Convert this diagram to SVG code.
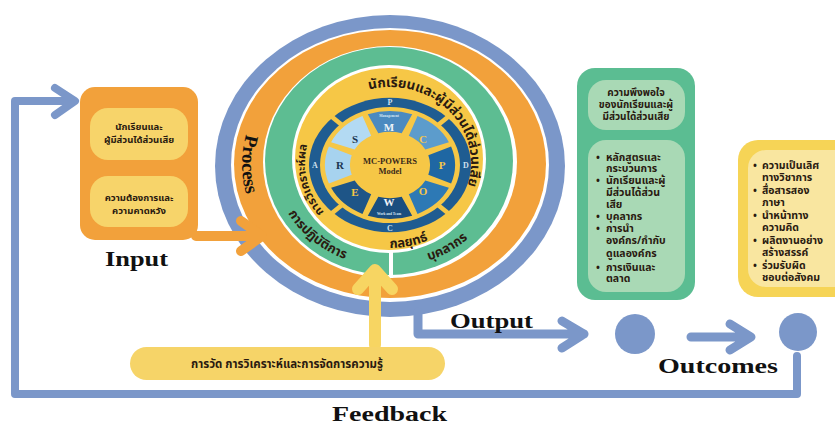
<svg xmlns="http://www.w3.org/2000/svg" width="835" height="426" viewBox="0 0 835 426">
<style>
.th{font-family:"Noto Sans Thai","Noto Sans","Liberation Sans",sans-serif;font-weight:bold;fill:#2a1a10}
.lbl{font-family:"Liberation Serif","DejaVu Serif",serif;font-weight:bold;fill:#111}
.ser{font-family:"Liberation Serif","DejaVu Serif",serif;font-weight:bold}
.blue{stroke:#7b97c9;fill:none;stroke-linecap:round;stroke-linejoin:round}
</style>
<defs>
<path id="ringY" d="M390,239 A81,76 0 0 1 390,87 A81,76 0 0 1 390,239"/>
<path id="ringYL" d="M390,241 A85,78 0 0 1 390,85 A85,78 0 0 1 390,241"/>
<path id="ringYb" d="M300,163 A90,85 0 0 0 480,163"/>
<path id="ringG" d="M273,161 A116,106 0 0 0 505,161"/>
<path id="ringO" d="M390,36 A148,128 0 0 0 390,292"/>
<path id="segShape" d="M-22.2,-61.1 A65,65 0 0 1 22.2,-61.1 L11.7,-38.3 A40,40 0 0 0 -11.7,-38.3 Z"/>
</defs>
<rect width="835" height="426" fill="#fff"/>

<g id="process">
<ellipse cx="390" cy="166" rx="175" ry="151" fill="#7b97c9"/>
<ellipse cx="390" cy="165" rx="159" ry="137" fill="#fff"/>
<ellipse cx="390" cy="164" rx="156" ry="134" fill="#f2a13b"/>
<ellipse cx="390" cy="162" rx="127" ry="116" fill="#fff"/>
<ellipse cx="389" cy="161" rx="124" ry="114" fill="#5dbd92"/>
<ellipse cx="389" cy="159" rx="97" ry="94" fill="#fff"/>
<ellipse cx="389" cy="159" rx="94" ry="91" fill="#f6c746"/>
<rect x="389" y="252" width="4" height="26" fill="#fff"/>
<text class="ser" font-size="19" fill="#111"><textPath href="#ringO" startOffset="187">Process</textPath></text>
<text class="th" font-size="13.5"><textPath href="#ringY" startOffset="225">นักเรียนและผู้มีส่วนได้ส่วนเสีย</textPath></text>
<text class="th" font-size="11.5"><textPath href="#ringYL" startOffset="74">การวิเคราะห์ผล</textPath></text>
<text class="th" font-size="13"><textPath href="#ringYb" startOffset="137">กลยุทธ์</textPath></text>
<text class="th" font-size="13"><textPath href="#ringG" startOffset="55">การปฏิบัติการ</textPath></text>
<text class="th" font-size="13"><textPath href="#ringG" startOffset="215">บุคลากร</textPath></text>
</g>

<g id="model">
<g transform="translate(390 165) scale(1 0.83)">
<circle r="81" fill="#1f5c91"/>
<circle r="70" fill="#f6c746"/>
<g fill="#f6c746">
<rect x="-2.5" y="-84" width="5" height="16" transform="rotate(45)"/>
<rect x="-2.5" y="-84" width="5" height="16" transform="rotate(135)"/>
<rect x="-2.5" y="-84" width="5" height="16" transform="rotate(225)"/>
<rect x="-2.5" y="-84" width="5" height="16" transform="rotate(315)"/>
</g>
<use href="#segShape" fill="#4b8ac0"/>
<use href="#segShape" fill="#5c9ccc" transform="rotate(45)"/>
<use href="#segShape" fill="#1f67a3" transform="rotate(90)"/>
<use href="#segShape" fill="#2d79b5" transform="rotate(135)"/>
<use href="#segShape" fill="#1b4e7f" transform="rotate(180)"/>
<use href="#segShape" fill="#1e5587" transform="rotate(225)"/>
<use href="#segShape" fill="#a7d3ef" transform="rotate(270)"/>
<use href="#segShape" fill="#b3daf3" transform="rotate(315)"/>
</g>
<g class="ser" font-size="8" fill="#cfe0ee" text-anchor="middle">
<text x="390" y="105">P</text><text x="466" y="168">D</text><text x="390" y="231">C</text><text x="315" y="168">A</text>
</g>
<g class="ser" font-size="11" text-anchor="middle">
<text x="389" y="131" fill="#eef3f8">M</text>
<text x="423" y="143" fill="#f6c746">C</text>
<text x="442" y="169" fill="#f6c746">P</text>
<text x="423" y="195" fill="#f6c746">O</text>
<text x="389" y="206" fill="#eef3f8">W</text>
<text x="355" y="196" fill="#f6c746">E</text>
<text x="340" y="169" fill="#1b3550">R</text>
<text x="355" y="143" fill="#1b3550">S</text>
</g>
<g class="ser" font-size="3.5" fill="#d8e6f3" text-anchor="middle">
<text x="389" y="117">Management</text>
<text x="389" y="215">Work and Team</text>
</g>
<text class="ser" font-size="8.5" fill="#3a2a1a" text-anchor="middle"><tspan x="390" y="164">MC-POWERS</tspan><tspan x="390" y="174">Model</tspan></text>
</g>

<g id="connectors">
<path class="blue" stroke-width="8" d="M797,356 V394 H15 V101 H73 M55,88 L75,101 L55,115"/>
<path class="blue" stroke-width="9" d="M418,312 V334 H584 M562,321 L584,334 L562,348"/>
<path class="blue" stroke-width="9" d="M691,337 H750 M730,324 L751,337 L730,350"/>
<path stroke="#f2a13b" stroke-width="10" fill="none" stroke-linecap="round" stroke-linejoin="round" d="M196,236 H261 M241,221 L262,236 L241,251"/>
<path d="M375,345 V272 M358,289 L375,270 L392,289" stroke="#f7d562" stroke-width="12" fill="none" stroke-linecap="round" stroke-linejoin="round"/>
</g>

<g id="input">
<rect x="80" y="87" width="118" height="153" rx="15" fill="#f2a13b"/>
<rect x="90" y="108" width="98" height="52" rx="18" fill="#f7d46a"/>
<rect x="90" y="176" width="98" height="51" rx="18" fill="#f7d46a"/>
<text class="th" font-size="9.5" text-anchor="middle"><tspan x="139" y="130">นักเรียนและ</tspan><tspan x="139" y="143">ผู้มีส่วนได้ส่วนเสีย</tspan></text>
<text class="th" font-size="9.5" text-anchor="middle"><tspan x="139" y="201">ความต้องการและ</tspan><tspan x="139" y="214">ความคาดหวัง</tspan></text>
<text class="lbl" x="105" y="266" font-size="21" textLength="63" lengthAdjust="spacingAndGlyphs">Input</text>
</g>

<g id="measure">
<rect x="130" y="347" width="315" height="33" rx="16.5" fill="#f6d468"/>
<text class="th" x="287" y="368" font-size="11.5" text-anchor="middle">การวัด การวิเคราะห์และการจัดการความรู้</text>
</g>

<g id="output">
<rect x="577" y="68" width="118" height="232" rx="18" fill="#5bbd92"/>
<rect x="588" y="80" width="97" height="50" rx="18" fill="#a9d9b5"/>
<rect x="588" y="140" width="97" height="152" rx="18" fill="#a9d9b5"/>
<text class="th" font-size="10" text-anchor="middle"><tspan x="636" y="96">ความพึงพอใจ</tspan><tspan x="636" y="108">ของนักเรียนและผู้</tspan><tspan x="636" y="120">มีส่วนได้ส่วนเสีย</tspan></text>
<text class="th" font-size="10.5">
<tspan x="596" y="161">•</tspan><tspan x="606" y="161">หลักสูตรและ</tspan>
<tspan x="606" y="172">กระบวนการ</tspan>
<tspan x="596" y="184">•</tspan><tspan x="606" y="184">นักเรียนและผู้</tspan>
<tspan x="606" y="196">มีส่วนได้ส่วน</tspan>
<tspan x="606" y="208">เสีย</tspan>
<tspan x="596" y="220">•</tspan><tspan x="606" y="220">บุคลากร</tspan>
<tspan x="596" y="232">•</tspan><tspan x="606" y="232">การนำ</tspan>
<tspan x="606" y="244">องค์กร/กำกับ</tspan>
<tspan x="606" y="257">ดูแลองค์กร</tspan>
<tspan x="596" y="271">•</tspan><tspan x="606" y="271">การเงินและ</tspan>
<tspan x="606" y="282">ตลาด</tspan>
</text>
<text class="lbl" x="450" y="328" font-size="21" textLength="83" lengthAdjust="spacingAndGlyphs">Output</text>
<circle cx="635" cy="334" r="20" fill="#7b97c9"/>
</g>

<g id="outcomes">
<rect x="738" y="140" width="120" height="157" rx="20" fill="#f6d456"/>
<rect x="748" y="150" width="110" height="137" rx="18" fill="#f9e6a0"/>
<text class="th" font-size="10.5">
<tspan x="753" y="169">•</tspan><tspan x="762" y="169">ความเป็นเลิศ</tspan>
<tspan x="762" y="181">ทางวิชาการ</tspan>
<tspan x="753" y="194">•</tspan><tspan x="762" y="194">สื่อสารสอง</tspan>
<tspan x="762" y="206">ภาษา</tspan>
<tspan x="753" y="219">•</tspan><tspan x="762" y="219">นำหน้าทาง</tspan>
<tspan x="762" y="231">ความคิด</tspan>
<tspan x="753" y="244">•</tspan><tspan x="762" y="244">ผลิตงานอย่าง</tspan>
<tspan x="762" y="256">สร้างสรรค์</tspan>
<tspan x="753" y="269">•</tspan><tspan x="762" y="269">ร่วมรับผิด</tspan>
<tspan x="762" y="281">ชอบต่อสังคม</tspan>
</text>
<circle cx="798" cy="332" r="19" fill="#7b97c9"/>
<text class="lbl" x="658" y="373" font-size="21" textLength="120" lengthAdjust="spacingAndGlyphs">Outcomes</text>
</g>

<g id="feedback">
<text class="lbl" x="332" y="421" font-size="21" textLength="115" lengthAdjust="spacingAndGlyphs">Feedback</text>
</g>
</svg>
